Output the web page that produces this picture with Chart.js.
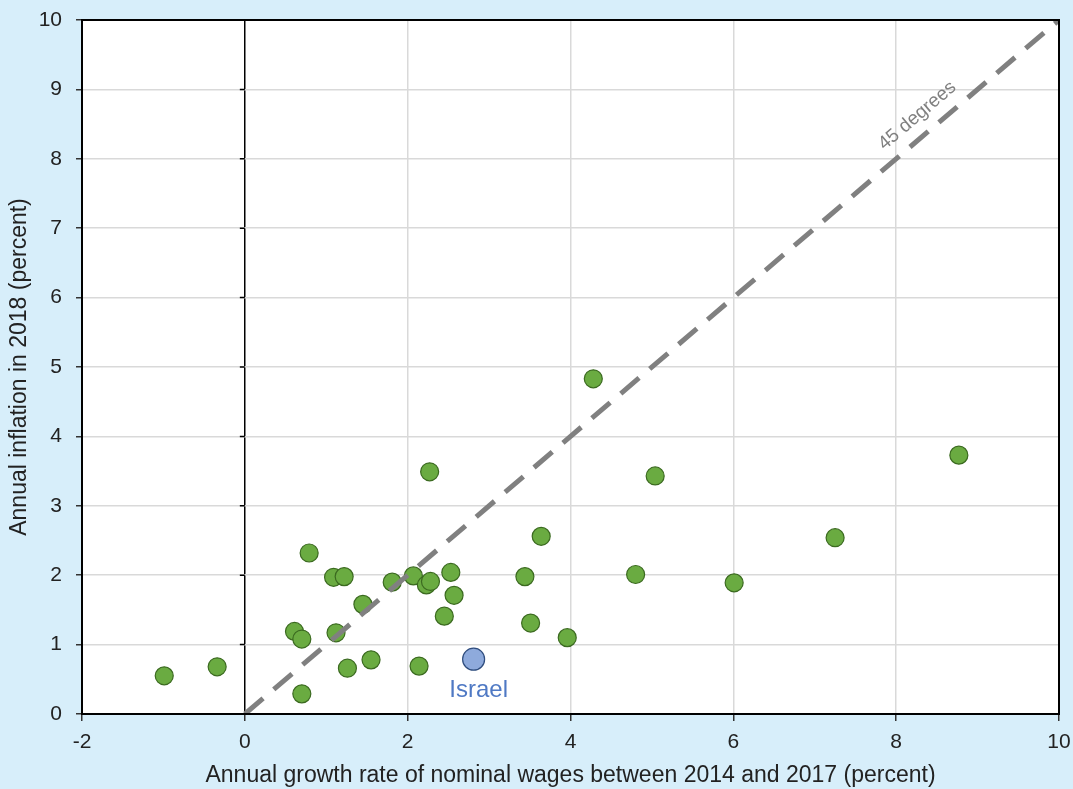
<!DOCTYPE html>
<html>
<head>
<meta charset="utf-8">
<script src="https://cdn.jsdelivr.net/npm/chart.js@4.4.0/dist/chart.umd.min.js"></script>
<style>
    html, body { margin: 0; padding: 0; background: #d7eefa; }
</style>
</head>
<body>
<canvas id="chart1" width="1073" height="789"></canvas>
<script>
// values
const wageGrowth = [-0.99, -0.34, 0.61, 0.70, 0.70, 0.79, 1.09, 1.22, 1.12, 1.26, 1.45, 1.55, 1.81, 2.07, 2.14,
    2.23, 2.28, 2.27, 2.45, 2.53, 2.57, 3.44, 3.51, 3.64, 3.96, 4.28, 4.80, 5.04, 6.01, 7.25, 8.77];
const inflation = [0.55, 0.68, 1.19, 1.08, 0.29, 2.32, 1.97, 1.98, 1.17, 0.66, 1.58, 0.78, 1.90, 1.99, 0.69,
    1.86, 1.91, 3.49, 1.41, 2.04, 1.71, 1.98, 1.31, 2.56, 1.10, 4.83, 2.01, 3.43, 1.89, 2.54, 3.73];
const israelWage = [2.81];
const israelInflation = [0.79];
const diagonalX = [0, 10];
const diagonalY = [0, 10];
const xTickValues = [-2, 0, 2, 4, 6, 8, 10];
const yTickValues = [0, 1, 2, 3, 4, 5, 6, 7, 8, 9, 10];

const toPoints = (xs, ys) => xs.map((x, i) => ({x: x, y: ys[i]}));

const fontFamily = 'Arial, "Liberation Sans", sans-serif';

// white plot area, frame, small ticks on the zero axis and the text labels
const decorations = {
    id: 'decorations',
    beforeDraw(chart) {
        const {ctx, chartArea: a} = chart;
        ctx.save();
        ctx.fillStyle = '#ffffff';
        ctx.fillRect(a.left, a.top, a.right - a.left, a.bottom - a.top);
        ctx.restore();
    },
    afterDatasetsDraw(chart) {
        const {ctx, chartArea: a, scales} = chart;
        const xs = scales.x, ys = scales.y;
        ctx.save();
        // frame
        ctx.strokeStyle = '#000';
        ctx.lineWidth = 2;
        ctx.strokeRect(a.left, a.top, a.right - a.left, a.bottom - a.top);
        // ticks on x = 0 axis
        const x0 = xs.getPixelForValue(0);
        ctx.lineWidth = 1.5;
        ctx.beginPath();
        yTickValues.forEach(v => {
            const py = ys.getPixelForValue(v);
            ctx.moveTo(x0 - 5, py);
            ctx.lineTo(x0, py);
        });
        ctx.stroke();

        // "45 degrees" label along the diagonal
        const p1x = xs.getPixelForValue(diagonalX[0]), p1y = ys.getPixelForValue(diagonalY[0]);
        const p2x = xs.getPixelForValue(diagonalX[1]), p2y = ys.getPixelForValue(diagonalY[1]);
        const ang = Math.atan2(p2y - p1y, p2x - p1x);
        ctx.translate(xs.getPixelForValue(8.26), ys.getPixelForValue(8.62));
        ctx.rotate(ang);
        ctx.fillStyle = '#808080';
        ctx.font = '19px ' + fontFamily;
        ctx.textAlign = 'center';
        ctx.textBaseline = 'middle';
        ctx.fillText('45 degrees', 0, 0);
        ctx.setTransform(1, 0, 0, 1, 0, 0);

        // Israel label
        ctx.fillStyle = '#4f79c4';
        ctx.font = '24px ' + fontFamily;
        ctx.textAlign = 'center';
        ctx.textBaseline = 'middle';
        ctx.fillText('Israel', xs.getPixelForValue(israelWage[0]) + 5, ys.getPixelForValue(israelInflation[0]) + 31);
        ctx.restore();
    }
};

const ctx = document.getElementById('chart1').getContext('2d');
const chart = new Chart(ctx, {
    type: 'scatter',
    data: {
        datasets: [{
            label: '45 degrees',
            data: toPoints(diagonalX, diagonalY),
            showLine: true,
            borderColor: '#808080',
            borderWidth: 5,
            borderDash: [24, 14],
            pointRadius: 0,
            fill: false
        }, {
            label: 'Israel',
            data: toPoints(israelWage, israelInflation),
            backgroundColor: '#8eaadc',
            borderColor: '#2f4d7e',
            borderWidth: 1.2,
            pointRadius: 11
        }, {
            label: 'Countries',
            data: toPoints(wageGrowth, inflation),
            backgroundColor: '#6aab41',
            borderColor: '#3b6a20',
            borderWidth: 1.2,
            pointRadius: 9
        }]
    },
    options: {
        responsive: false,
        animation: false,
        devicePixelRatio: 1,
        layout: { padding: { top: 20, right: 14, left: 0, bottom: 0 } },
        plugins: { legend: { display: false }, tooltip: { enabled: false } },
        scales: {
            x: {
                type: 'linear',
                min: -2,
                max: 10,
                afterFit: scale => {
                    scale.height = 75;
                    scale.paddingLeft = 0;
                    scale.paddingRight = 0;
                },
                afterBuildTicks: scale => { scale.ticks = xTickValues.map(v => ({value: v})); },
                grid: {
                    color: c => c.tick && c.tick.value === 0 ? '#000' : '#d9d9d9',
                    lineWidth: 1.5,
                    tickColor: '#333',
                    tickLength: 7
                },
                border: { display: true, color: '#000', width: 2 },
                ticks: {
                    color: '#222',
                    font: { size: 21, family: fontFamily },
                    padding: 9,
                    maxRotation: 0
                },
                title: {
                    display: true,
                    text: 'Annual growth rate of nominal wages between 2014 and 2017 (percent)',
                    color: '#222',
                    font: { size: 23, family: fontFamily },
                    padding: { top: 0, bottom: 0 }
                }
            },
            y: {
                type: 'linear',
                min: 0,
                max: 10,
                afterFit: scale => {
                    scale.width = 82;
                    scale.paddingTop = 0;
                    scale.paddingBottom = 0;
                },
                afterBuildTicks: scale => { scale.ticks = yTickValues.map(v => ({value: v})); },
                grid: {
                    color: '#d9d9d9',
                    lineWidth: 1.5,
                    tickColor: '#333',
                    tickLength: 6
                },
                border: { display: true, color: '#000', width: 2 },
                ticks: {
                    color: '#222',
                    font: { size: 21, family: fontFamily },
                    padding: 14
                },
                title: {
                    display: true,
                    text: 'Annual inflation in 2018 (percent)',
                    color: '#222',
                    font: { size: 23, family: fontFamily },
                    padding: { top: 6, bottom: 4 }
                }
            }
        }
    },
    plugins: [decorations]
});
</script>
</body>
</html>
